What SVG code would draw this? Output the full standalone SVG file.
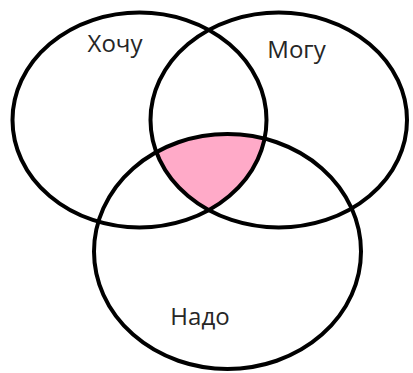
<svg xmlns="http://www.w3.org/2000/svg" width="413" height="373" viewBox="0 0 413 373">
  <style>
    .ring { fill: none; stroke: #000; stroke-width: 4; }
    .label { font-family: "Open Sans", "Liberation Sans", sans-serif; font-size: 24px; fill: #262626; text-anchor: middle; }
  </style>
  <defs>
    <clipPath id="clipLeft">
      <ellipse cx="139.5" cy="120" rx="127" ry="107.5"/>
    </clipPath>
    <clipPath id="clipRight">
      <ellipse cx="278.75" cy="120" rx="128.25" ry="107.5"/>
    </clipPath>
  </defs>
  <rect width="413" height="373" fill="#fff"/>
  <g id="intersection" clip-path="url(#clipRight)">
    <g clip-path="url(#clipLeft)">
      <ellipse cx="227.5" cy="251.5" rx="133.5" ry="117.5" fill="#ffaac8"/>
    </g>
  </g>
  <g id="connectors"></g>
  <g id="node-want">
    <ellipse class="ring" cx="139.5" cy="120" rx="127" ry="107.5"/>
    <text class="label" x="115" y="52">Хочу</text>
  </g>
  <g id="node-can">
    <ellipse class="ring" cx="278.75" cy="120" rx="128.25" ry="107.5"/>
    <text class="label" x="296.5" y="58">Могу</text>
  </g>
  <g id="node-must">
    <ellipse class="ring" cx="227.5" cy="251.5" rx="133.5" ry="117.5"/>
    <text class="label" x="200" y="325">Надо</text>
  </g>
</svg>
